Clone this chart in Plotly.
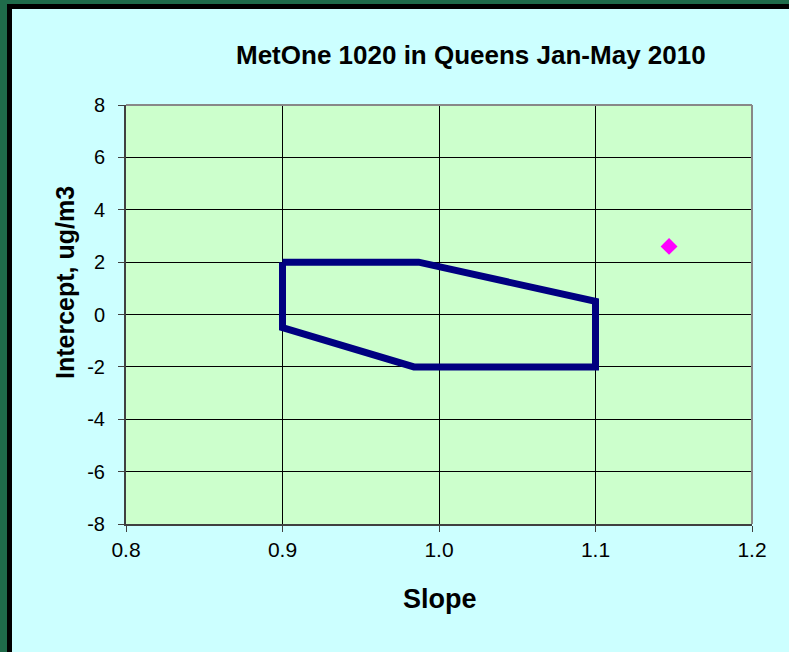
import plotly.graph_objects as go

# Data
box_slope = [0.9, 0.987, 1.1, 1.1, 0.984, 0.9, 0.9]
box_intercept = [2.0, 2.0, 0.5, -2.0, -2.0, -0.5, 2.0]
point_slope = [1.147]
point_intercept = [2.6]
x_ticks = [0.8, 0.9, 1.0, 1.1, 1.2]
x_tick_labels = ["0.8", "0.9", "1.0", "1.1", "1.2"]
y_ticks = [8, 6, 4, 2, 0, -2, -4, -6, -8]
y_tick_labels = ["8", "6", "4", "2", "0", "-2", "-4", "-6", "-8"]
title_text = "MetOne 1020 in Queens Jan-May 2010"
x_title = "Slope"
y_title = "Intercept, ug/m3"

FONT = "Liberation Sans, Arial, sans-serif"
W, H = 789, 652
L, R, T, B = 126, 752, 105, 524  # plot area pixel bounds


def px(x):
    return (x - L) / (R - L)


def py(y):
    return (B - y) / (B - T)


fig = go.Figure()
fig.add_trace(go.Scatter(x=box_slope, y=box_intercept, mode="lines",
                         line=dict(color="#000080", width=7),
                         hoverinfo="skip", showlegend=False))
fig.add_trace(go.Scatter(x=point_slope, y=point_intercept, mode="markers",
                         marker=dict(symbol="diamond", color="#ff00ff", size=13),
                         showlegend=False))

shapes = [
    # cyan chart area with black frame
    dict(type="rect", xref="paper", yref="paper", layer="below",
         x0=px(9.5), x1=px(820), y0=py(700), y1=py(6.5),
         fillcolor="#ccffff", line=dict(color="black", width=5)),
    # light green plot area
    dict(type="rect", xref="paper", yref="paper", layer="below",
         x0=0, x1=1, y0=0, y1=1,
         fillcolor="#ccffcc", line=dict(width=0)),
    # plot area border top and right
    dict(type="line", xref="paper", yref="paper", layer="above",
         x0=0, x1=1, y0=1, y1=1, line=dict(color="#888888", width=2)),
    dict(type="line", xref="paper", yref="paper", layer="above",
         x0=1, x1=1, y0=0, y1=1, line=dict(color="#888888", width=2)),
]

annotations = [
    dict(text="<b>" + title_text + "</b>", xref="paper", yref="paper",
         x=px(471), y=py(55), xanchor="center", yanchor="middle",
         showarrow=False, font=dict(family=FONT, size=26, color="black")),
    dict(text="<b>" + y_title + "</b>", xref="paper", yref="paper",
         x=px(65), y=py(283), xanchor="center", yanchor="middle", textangle=-90,
         showarrow=False, font=dict(family=FONT, size=25, color="black")),
    dict(text="<b>" + x_title + "</b>", xref="paper", yref="paper",
         x=px(440), y=py(599), xanchor="center", yanchor="middle",
         showarrow=False, font=dict(family=FONT, size=27, color="black")),
]

fig.update_layout(
    width=W, height=H,
    margin=dict(l=L, r=W - R, t=T, b=H - B, pad=0),
    paper_bgcolor="#1f6b4a",
    plot_bgcolor="#ccffcc",
    shapes=shapes,
    annotations=annotations,
    font=dict(family=FONT, color="black"),
    xaxis=dict(range=[0.8, 1.2], tickvals=x_ticks, ticktext=x_tick_labels,
               showgrid=True, gridcolor="black", gridwidth=1,
               showline=True, linecolor="#404040", linewidth=2,
               ticks="outside", ticklen=6, tickcolor="#404040", tickwidth=1,
               tickfont=dict(size=21, family=FONT, color="black"),
               zeroline=False, fixedrange=True),
    yaxis=dict(range=[-8, 8], tickvals=y_ticks, ticktext=y_tick_labels,
               showgrid=True, gridcolor="black", gridwidth=1,
               showline=True, linecolor="#404040", linewidth=2,
               ticks="outside", ticklen=6, tickcolor="#404040", tickwidth=1,
               ticklabelstandoff=9,
               tickfont=dict(size=20, family=FONT, color="black"),
               zeroline=False, fixedrange=True),
)

fig.write_html("out.html", config={"displayModeBar": False},
               post_script="document.body.style.margin='0';document.body.style.overflow='hidden';")
